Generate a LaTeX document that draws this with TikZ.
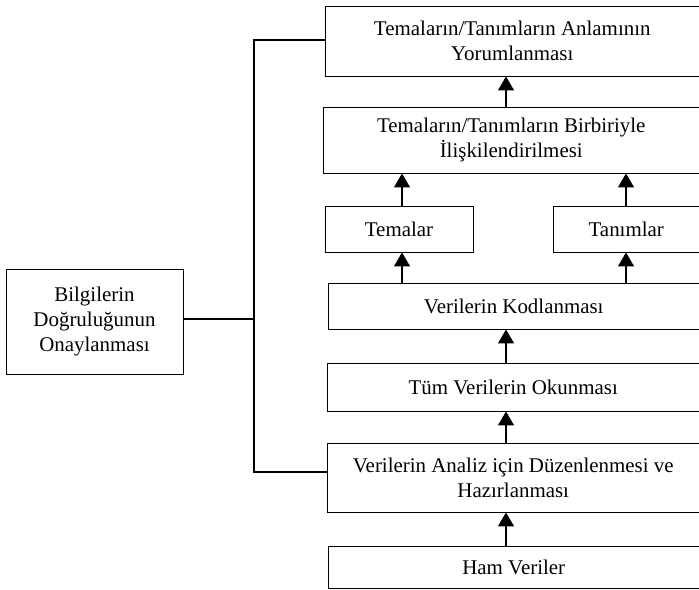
\documentclass[tikz,border=0pt]{standalone}
\usepackage{fontspec}
\setmainfont{Liberation Serif}
\usetikzlibrary{arrows.meta}

\begin{document}
\begin{tikzpicture}[x=1bp,y=-1bp,
    box/.style={draw,line width=0.9bp,rectangle,align=center,inner sep=0pt,
      font=\fontsize{21}{25}\selectfont},
    arr/.style={line width=1.3bp,-{Triangle[length=14bp,width=16bp]}},
    bus/.style={line width=1.3bp}]
  \useasboundingbox (0,0) rectangle (699,590);
  \node[box,minimum width=374.5bp,minimum height=70bp] (yorum) at (512.25,41) {Temaların/Tanımların Anlamının\\Yorumlanması};
  \node[box,minimum width=376.5bp,minimum height=66bp] (iliski) at (511.25,140) {Temaların/Tanımların Birbiriyle\\İlişkilendirilmesi};
  \node[box,minimum width=148bp,minimum height=46bp] (temalar) at (399,229) {Temalar};
  \node[box,minimum width=146.5bp,minimum height=46bp] (tanimlar) at (626.25,229) {Tanımlar};
  \node[box,minimum width=371.5bp,minimum height=46bp] (kod) at (513.75,306) {Verilerin Kodlanması};
  \node[box,minimum width=372.5bp,minimum height=48bp] (okuma) at (513.25,387) {Tüm Verilerin Okunması};
  \node[box,minimum width=372.5bp,minimum height=69bp] (analiz) at (513.25,477.5) {Verilerin Analiz için Düzenlenmesi ve\\Hazırlanması};
  \node[box,minimum width=371.5bp,minimum height=42bp] (ham) at (513.75,567) {Ham Veriler};
  \node[box,minimum width=177bp,minimum height=105bp] (onay) at (94.5,321.5) {Bilgilerin\\Doğruluğunun\\Onaylanması};
  \coordinate (orta) at (506,0);
  \coordinate (sol) at (402,0);
  \coordinate (sag) at (626,0);
  \coordinate (hat) at (254,0);
  % oklar
  \draw[arr] (ham.north -| orta) -- (analiz.south -| orta);
  \draw[arr] (analiz.north -| orta) -- (okuma.south -| orta);
  \draw[arr] (okuma.north -| orta) -- (kod.south -| orta);
  \draw[arr] (kod.north -| sol) -- (temalar.south -| sol);
  \draw[arr] (kod.north -| sag) -- (tanimlar.south -| sag);
  \draw[arr] (temalar.north -| sol) -- (iliski.south -| sol);
  \draw[arr] (tanimlar.north -| sag) -- (iliski.south -| sag);
  \draw[arr] (iliski.north -| orta) -- (yorum.south -| orta);
  % sol hat
  \draw[bus] ([yshift=1bp]yorum.west) -- ([yshift=1bp]yorum.west -| hat) |- ([yshift=5.5bp]analiz.west);
  \draw[bus] ([yshift=2.5bp]onay.east) -- ([yshift=2.5bp]onay.east -| hat);
\end{tikzpicture}
\end{document}
